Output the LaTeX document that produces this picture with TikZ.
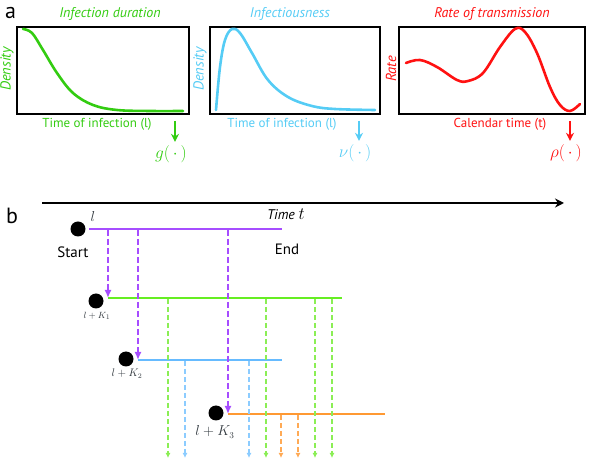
\documentclass[tikz,border=0pt]{standalone}
\usepackage{fontspec}
\setmainfont{PT Sans}
\usetikzlibrary{arrows.meta}
\definecolor{cgreen}{HTML}{33CC11}
\definecolor{lgreen}{HTML}{66EE22}
\definecolor{tgreen}{HTML}{8BEE55}
\definecolor{ccyan}{HTML}{55CCF5}
\definecolor{cblue}{HTML}{66BBFF}
\definecolor{tblue}{HTML}{8CCCFF}
\definecolor{cred}{HTML}{FF1111}
\definecolor{cpurple}{HTML}{A64DFF}
\definecolor{corange}{HTML}{FF9933}
\definecolor{torange}{HTML}{FFAA55}
\definecolor{mgray}{HTML}{333A40}
\tikzset{
  panelbox/.style={draw=black, line width=1.6pt},
  curve/.style={line width=2.6pt, line cap=round, line join=round},
  ttl/.style={font=\itshape\fontsize{14}{16}\selectfont},
  axl/.style={font=\fontsize{13}{15}\selectfont},
  yl/.style={font=\itshape\fontsize{14.5}{16}\selectfont, rotate=90},
  fn/.style={font=\fontsize{17}{19}\selectfont},
  fnarrow/.style={line width=2pt, -{Stealth[length=8pt,width=8pt]}},
  bigletter/.style={font=\fontsize{22}{24}\selectfont, anchor=base west, inner sep=0pt},
  dot/.style={circle, fill=black, minimum size=15pt, inner sep=0pt},
  tline/.style={line width=2.2pt},
  bigdash/.style={line width=2.2pt, dash pattern=on 6pt off 3pt, -{Latex[length=8pt,width=7pt]}},
  thindash/.style={line width=1.3pt, dash pattern=on 5pt off 3pt, -{Latex[length=5pt,width=5pt]}},
  klbl/.style={text=mgray},
  plain/.style={font=\fontsize{15}{17}\selectfont},
}
\begin{document}
\begin{tikzpicture}[x=1pt,y=-1pt]
\useasboundingbox (0,0) rectangle (590,470);
% ---------- panel a ----------
\node[bigletter] (la) at (5,19) {a};
% box 1
\draw[panelbox] (17,27) rectangle (189,114);
\node[ttl, text=cgreen] (t1) at (110,14) {Infection duration};
\node[yl, text=cgreen] (y1) at (7,69) {Density};
\node[axl, text=cgreen] (x1) at (97,124) {Time of infection (l)};
\draw[curve, cgreen] plot[smooth, tension=0.6] coordinates {(23,29) (32,33) (43,50) (57,73) (73,93) (93,105) (117,110) (150,111) (183,111)};
\node[fn, text=cgreen] (g) at (171,154) {$g(\,\cdot\,)$};
\coordinate (g0) at (175,121);
\draw[fnarrow, cgreen] (g0) -- (g.north -| g0);
% box 2
\draw[panelbox] (210,27) rectangle (380,114);
\node[ttl, text=ccyan] (t2) at (290,14) {Infectiousness};
\node[yl, text=ccyan] (y2) at (200,69) {Density};
\node[axl, text=ccyan] (x2) at (282,124) {Time of infection (l)};
\draw[curve, ccyan] plot[smooth, tension=0.6] coordinates {(216,110) (220,67) (225,40) (232,29) (240,33) (252,53) (268,80) (288,97) (312,106) (335,109) (375,110)};
\node[fn, text=ccyan] (nu) at (355,153) {$\nu(\,\cdot\,)$};
\coordinate (n0) at (359,121);
\draw[fnarrow, ccyan] (n0) -- (nu.north -| n0);
% box 3
\draw[panelbox] (399,27) rectangle (585,114);
\node[ttl, text=cred] (t3) at (492,14) {Rate of transmission};
\node[yl, text=cred] (y3) at (391,69) {Rate};
\node[axl, text=cred] (x3) at (500,124) {Calendar time (t)};
\draw[curve, cred] plot[smooth, tension=0.6] coordinates {(406,63) (420,60) (437,67) (457,80) (468,81) (483,73) (500,47) (515,29) (525,32) (537,53) (550,87) (560,105) (570,111) (580,104)};
\node[fn, text=cred] (rho) at (566,153) {$\rho(\,\cdot\,)$};
\coordinate (r0) at (570,121);
\draw[fnarrow, cred] (r0) -- (rho.north -| r0);
% ---------- panel b ----------
\node[bigletter] (lb) at (6,224) {b};
\coordinate (ax0) at (42,203);
\coordinate (ax1) at (564,203);
\draw[line width=2.6pt, -{Stealth[length=9pt,width=9pt]}] (ax0) -- (ax1);
\node[font=\itshape\fontsize{14}{16}\selectfont] (time) at (286,214) {Time {\upshape\fontsize{16}{18}\selectfont$t$}};
% purple
\node[dot] (d0) at (78,229) {};
\node[klbl, font=\fontsize{15}{17}\selectfont] (l0) at (93,217) {$l$};
\node[plain] (start) at (73,252) {Start};
\node[plain] (end) at (287,249) {End};
\coordinate (p0) at (89,229);
\coordinate (p1) at (282,229);
\draw[tline, cpurple] (p0) -- (p1);
% green
\node[dot] (d1) at (96,301) {};
\node[klbl, font=\fontsize{9.5}{11}\selectfont] (k1) at (97,316) {$l+K_1$};
\coordinate (g1a) at (108,298);
\coordinate (g1b) at (342,298);
\draw[tline, lgreen] (g1a) -- (g1b);
% blue
\node[dot] (d2) at (126,359) {};
\node[klbl, font=\fontsize{10.5}{12}\selectfont] (k2) at (127,374) {$l+K_2$};
\coordinate (b2a) at (138,360);
\coordinate (b2b) at (282,360);
\draw[tline, cblue] (b2a) -- (b2b);
% orange
\node[dot] (d3) at (216,413) {};
\node[klbl, font=\fontsize{13.5}{15}\selectfont] (k3) at (215,432) {$l+K_3$};
\coordinate (o3a) at (228,414);
\coordinate (o3b) at (385,414);
\draw[tline, corange] (o3a) -- (o3b);
% purple dashed arrows
\draw[bigdash, cpurple] (108,230) -- (g1a);
\draw[bigdash, cpurple] (138,230) -- (b2a);
\draw[bigdash, cpurple] (228,230) -- (o3a);
% thin arrows
\foreach \xx in {168,266,315,332} \draw[thindash, tgreen] (\xx,299) -- (\xx,458);
\foreach \xx in {185,249} \draw[thindash, tblue] (\xx,361) -- (\xx,458);
\foreach \xx in {281,298} \draw[thindash, torange] (\xx,415) -- (\xx,458);
\end{tikzpicture}
\end{document}
